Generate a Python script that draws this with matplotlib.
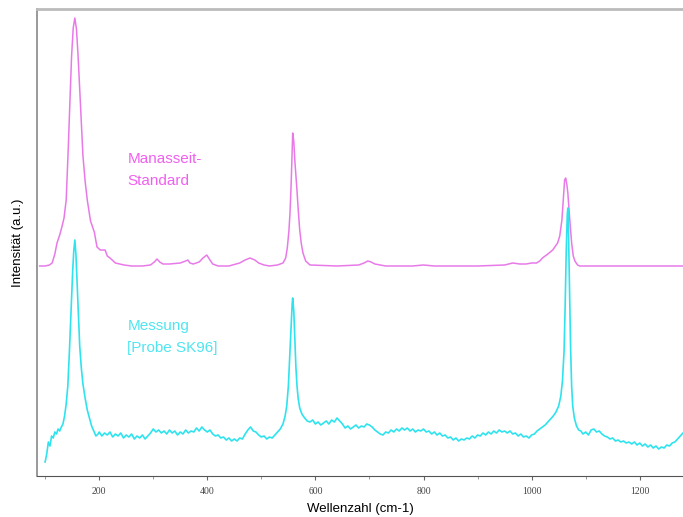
import matplotlib
matplotlib.use("Agg")
import matplotlib.pyplot as plt
from matplotlib.ticker import MultipleLocator

# Manasseit-Standard (magenta), intensity in arbitrary units
std_x = [90, 100, 108, 113, 118, 122, 127, 131, 135, 139, 143, 146, 149, 152, 155,
         158, 161, 165, 170, 174, 178, 184, 191, 196, 202, 208, 211, 215, 220, 230,
         246, 260, 280, 295, 302, 307, 312, 318, 330, 350, 360, 364, 368, 374, 385,
         392, 399, 405, 410, 420, 440, 460, 470, 479, 488, 495, 505, 515, 530, 540,
         545, 548, 551, 553, 555, 557, 558, 560, 562, 564, 566, 568, 571, 574, 577,
         582, 590, 640, 680, 690, 697, 703, 710, 730, 780, 800, 820, 900, 950, 965,
         978, 990, 1000, 1009, 1015, 1020, 1030, 1039, 1048, 1052, 1056, 1059, 1061, 1063, 1065,
         1067, 1070, 1074, 1077, 1080, 1085, 1089, 1150, 1280]
std_y = [210, 210, 211, 213, 222, 233, 241, 249, 258, 276, 330, 376, 420, 448, 458,
         447, 420, 376, 320, 295, 276, 255, 244, 229, 226, 226, 226, 220, 218, 213,
         211, 210, 210, 211, 214, 217, 214, 212, 212, 213, 215, 216, 213, 212, 214,
         218, 221, 216, 212, 210, 210, 213, 216, 218, 216, 213, 211, 210, 211, 213,
         218, 228, 245, 263, 290, 325, 343, 335, 315, 300, 285, 268, 246, 232, 223,
         215, 211, 210, 211, 213, 215, 214, 212, 210, 210, 211, 210, 210, 211, 213,
         212, 212, 213, 213, 215, 218, 222, 226, 233, 240, 256, 280, 296, 298, 292,
         283, 260, 233, 220, 215, 211, 210, 210, 210]

# Messung [Probe SK96] (cyan)
sample_x = [100, 103, 106, 109, 112, 115, 118, 121, 124, 127, 130, 133, 136, 139, 142,
            145, 148, 151, 153, 155, 157, 159, 161, 164, 167, 170, 174, 178, 182, 186,
            190, 194, 198,
            200, 205, 210, 215, 220, 225, 230, 235, 240, 245, 250, 255, 260, 265, 270,
            275, 280, 285, 290, 295, 300, 305, 310, 315, 320, 325, 330, 335, 340, 345,
            350, 355, 360, 365, 370, 375, 380, 385, 390, 395, 400, 405, 410, 415, 420,
            425, 430, 435, 440, 445, 450, 455, 460, 465, 470, 475, 480, 485, 490, 495,
            500, 505, 510, 515, 520, 525, 530, 535, 540, 544, 547, 550, 553, 555, 557,
            558, 560, 562, 564, 566, 568, 571, 575, 580, 585, 590, 595, 600, 605, 610,
            615, 620, 625, 630, 635, 640, 645, 650, 655, 660, 665, 670, 675, 680, 685,
            690, 695, 700, 705, 710, 715, 720, 725, 730, 735, 740, 745, 750, 755, 760,
            765, 770, 775, 780, 785, 790, 795, 800, 805, 810, 815, 820, 825, 830, 835,
            840, 845, 850, 855, 860, 865, 870, 875, 880, 885, 890, 895, 900, 905, 910,
            915, 920, 925, 930, 935, 940, 945, 950, 955, 960, 965, 970, 975, 980, 985,
            990, 995, 1000, 1005, 1010, 1015, 1020, 1025, 1030, 1035, 1040, 1045, 1050, 1054, 1057,
            1060, 1062, 1064, 1066, 1067, 1068, 1070, 1072, 1074, 1076, 1079, 1083, 1087, 1091, 1095,
            1100, 1105, 1110, 1115, 1120, 1125, 1130, 1135, 1140, 1145, 1150, 1155, 1160, 1165, 1170,
            1175, 1180, 1185, 1190, 1195, 1200, 1205, 1210, 1215, 1220, 1225, 1230, 1235, 1240, 1245,
            1250, 1255, 1260, 1265, 1270, 1275, 1280]
sample_y = [14, 22, 34, 30, 40, 38, 44, 42, 47, 45, 49, 52, 60, 72, 90,
            125, 165, 205, 225, 236, 222, 196, 168, 130, 108, 92, 78, 66, 58, 50,
            45, 40, 42,
            44, 40, 43, 41, 44, 39, 42, 40, 43, 38, 41, 39, 42, 37, 40,
            38, 41, 37, 40, 43, 47, 44, 46, 43, 45, 42, 46, 43, 45, 41,
            44, 42, 46, 43, 45, 44, 48, 45, 49, 46, 44, 46, 42, 40, 41,
            38, 39, 36, 38, 35, 37, 35, 38, 37, 42, 46, 49, 45, 44, 41,
            39, 40, 37, 39, 38, 41, 44, 47, 52, 60, 70, 90, 125, 150, 172,
            178, 165, 135, 108, 90, 78, 68, 62, 58, 55, 54, 56, 52, 54, 51,
            53, 55, 52, 56, 54, 58, 55, 52, 48, 50, 47, 49, 51, 48, 50,
            49, 52, 51, 49, 46, 44, 42, 41, 44, 43, 46, 44, 47, 45, 48,
            46, 48, 45, 47, 44, 46, 45, 47, 44, 45, 42, 44, 41, 43, 40,
            41, 38, 39, 36, 38, 35, 37, 36, 38, 37, 40, 38, 41, 40, 43,
            41, 44, 42, 45, 43, 46, 44, 45, 43, 45, 42, 43, 40, 42, 39,
            40, 38, 41, 42, 45, 47, 49, 51, 54, 57, 60, 64, 70, 80, 95,
            125, 170, 225, 262, 268, 250, 190, 130, 90, 70, 58, 50, 46, 45, 42,
            44, 41, 46, 47, 44, 45, 42, 40, 39, 37, 38, 35, 36, 34, 35,
            33, 34, 32, 34, 31, 33, 30, 32, 29, 31, 28, 30, 27, 29, 28,
            31, 30, 33, 34, 37, 40, 43]

x_ticks = [200, 400, 600, 800, 1000, 1200]

fig = plt.figure(figsize=(6.83, 5.17), dpi=100)
ax = fig.add_axes([37 / 683, 1 - 476 / 517, 1 - 37 / 683, (476 - 9) / 517])

ax.plot(std_x, std_y, color="#e87ae8", lw=1.1)
ax.plot(sample_x, sample_y, color="#2ee3ee", lw=1.2)

ax.set_xlim(85, 1280)
ax.set_ylim(0, 467)

ax.set_xticks(x_ticks)
ax.xaxis.set_minor_locator(MultipleLocator(100))
ax.set_yticks([])
ax.tick_params(axis="x", which="major", length=3, width=0.8, color="#666",
               labelsize=7, labelcolor="#444", pad=5)
ax.tick_params(axis="x", which="minor", length=2, width=0.6, color="#888")
for lab in ax.get_xticklabels():
    lab.set_family("Liberation Serif")

ax.spines["right"].set_visible(False)
ax.spines["top"].set_color("#bbbbbb")
ax.spines["top"].set_linewidth(2)
ax.spines["left"].set_color("#888888")
ax.spines["left"].set_linewidth(1.2)
ax.spines["bottom"].set_color("#555555")

ax.set_xlabel("Wellenzahl (cm-1)", family="Liberation Sans", fontsize=9.5, labelpad=5)
ax.set_ylabel("Intensität (a.u.)", family="Liberation Sans", fontsize=9.5, labelpad=9)

ax.text(252, 324, "Manasseit-\nStandard", color="#f060f0", fontsize=11,
        family="Liberation Sans", va="top", linespacing=1.75)
ax.text(252, 157, "Messung\n[Probe SK96]", color="#4fe6f0", fontsize=11,
        family="Liberation Sans", va="top", linespacing=1.75)

fig.savefig("out.png", dpi=100)
